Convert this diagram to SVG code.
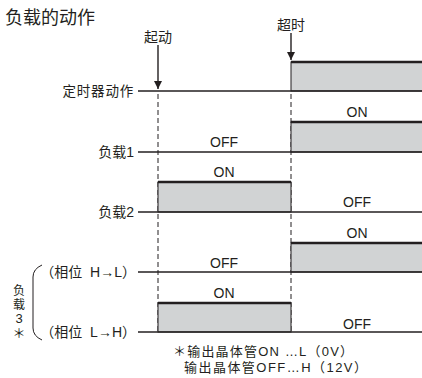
<svg xmlns="http://www.w3.org/2000/svg" width="422" height="378" viewBox="0 0 422 378">
<defs>
<style>
.t{font-family:"Liberation Sans","Noto Sans CJK SC",sans-serif;fill:#231f20;font-size:13.5px}
.lv{font-family:"Liberation Sans",sans-serif;fill:#231f20;font-size:14px;text-anchor:middle}
.base{stroke:#231f20;stroke-width:1.3;fill:none}
.box{fill:#d1d3d4;stroke:#231f20;stroke-width:1}
.hi{stroke:#231f20;stroke-width:2.6;fill:none}
.dash{stroke:#231f20;stroke-width:1;stroke-dasharray:5 3;fill:none}
.arr{stroke:#231f20;stroke-width:1.4;fill:none}
</style>
<marker id="ah" viewBox="0 0 10 10" refX="10" refY="5" markerWidth="8" markerHeight="8" markerUnits="userSpaceOnUse" orient="auto">
<path d="M0,0 L10,5 L0,10 z" fill="#231f20"/>
</marker>
</defs>
<rect width="422" height="378" fill="#fff"/>
<text class="t" x="5" y="24" style="font-size:18px">负载的动作</text>

<g id="connectors">
<line class="dash" x1="158" y1="94" x2="158" y2="332"/>
<line class="dash" x1="291" y1="94" x2="291" y2="332"/>
<line class="arr" x1="158" y1="45" x2="158" y2="89" marker-end="url(#ah)"/>
<line class="arr" x1="291" y1="33" x2="291" y2="60" marker-end="url(#ah)"/>
</g>
<text class="t" x="158" y="42" text-anchor="middle" style="font-size:14px">起动</text>
<text class="t" x="291" y="30" text-anchor="middle" style="font-size:14px">超时</text>

<g id="timer">
<text class="t" x="134" y="96" text-anchor="end" style="letter-spacing:0.8px">定时器动作</text>
<rect class="box" x="291" y="62" width="133" height="29"/>
<line class="hi" x1="291" y1="62" x2="422" y2="62"/>
<line class="base" x1="138" y1="91" x2="422" y2="91"/>
</g>

<g id="load1">
<text class="t" x="134" y="157" text-anchor="end" style="font-size:14px">负载1</text>
<rect class="box" x="291" y="122" width="133" height="30"/>
<line class="hi" x1="291" y1="122" x2="422" y2="122"/>
<line class="base" x1="138" y1="152" x2="422" y2="152"/>
<text class="lv" x="224" y="147">OFF</text>
<text class="lv" x="357" y="117">ON</text>
</g>

<g id="load2">
<text class="t" x="134" y="217" text-anchor="end" style="font-size:14px">负载2</text>
<rect class="box" x="158" y="182" width="133" height="30"/>
<line class="hi" x1="158" y1="182" x2="291" y2="182"/>
<line class="base" x1="138" y1="212" x2="422" y2="212"/>
<text class="lv" x="224" y="177">ON</text>
<text class="lv" x="357" y="207">OFF</text>
</g>

<g id="load3">
<path d="M42,265 Q33,269 33,277 L33,328 Q33,336 42,340" stroke="#231f20" stroke-width="1" fill="none"/>
<text class="t" text-anchor="middle" style="font-size:12px"><tspan x="19" y="295">负</tspan><tspan x="19" y="309">载</tspan><tspan x="19" y="323" style="font-size:13px">3</tspan><tspan x="19" y="338" style="font-size:13px">＊</tspan></text>
</g>

<g id="phaseHL">
<text class="t" x="136" y="277" text-anchor="end" style="font-size:14px" xml:space="preserve">（相位  H→L）</text>
<rect class="box" x="291" y="243" width="133" height="29"/>
<line class="hi" x1="291" y1="243" x2="422" y2="243"/>
<line class="base" x1="138" y1="272" x2="422" y2="272"/>
<text class="lv" x="224" y="268">OFF</text>
<text class="lv" x="357" y="238">ON</text>
</g>

<g id="phaseLH">
<text class="t" x="136" y="337" text-anchor="end" style="font-size:14px" xml:space="preserve">（相位  L→H）</text>
<rect class="box" x="158" y="303" width="133" height="29"/>
<line class="hi" x1="158" y1="303" x2="291" y2="303"/>
<line class="base" x1="138" y1="332" x2="422" y2="332"/>
<text class="lv" x="224" y="298">ON</text>
<text class="lv" x="357" y="329">OFF</text>
</g>

<g id="note">
<text class="t" x="173" y="356" style="font-size:13px" textLength="180" lengthAdjust="spacing">＊输出晶体管ON …L（0V）</text>
<text class="t" x="184" y="372" style="font-size:13px" textLength="183" lengthAdjust="spacing">输出晶体管OFF…H（12V）</text>
</g>
</svg>
